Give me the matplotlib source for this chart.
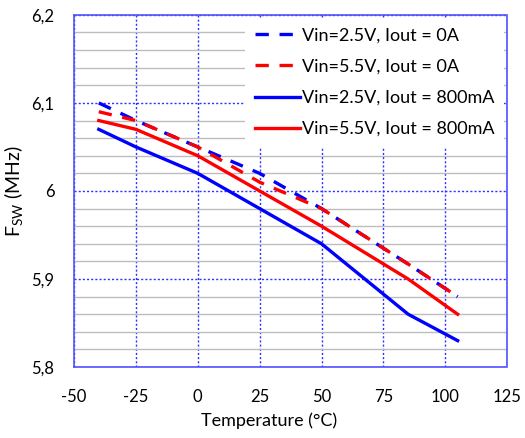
import matplotlib
matplotlib.use("Agg")
import matplotlib.pyplot as plt
import numpy as np

plt.rcParams['font.family'] = ['Lato', 'DejaVu Sans']
plt.rcParams['mathtext.fontset'] = 'custom'
plt.rcParams['mathtext.rm'] = 'Lato'
plt.rcParams['mathtext.it'] = 'Lato'
plt.rcParams['axes.unicode_minus'] = False

temps = [-40, -25, 0, 25, 50, 85, 105]
vin25_0a = [6.10, 6.08, 6.05, 6.02, 5.98, 5.917, 5.88]
vin55_0a = [6.09, 6.08, 6.05, 6.01, 5.98, 5.917, 5.88]
vin25_800 = [6.07, 6.05, 6.02, 5.98, 5.94, 5.86, 5.83]
vin55_800 = [6.08, 6.07, 6.04, 6.00, 5.96, 5.90, 5.86]

labels = ["Vin=2.5V, Iout = 0A", "Vin=5.5V, Iout = 0A",
          "Vin=2.5V, Iout = 800mA", "Vin=5.5V, Iout = 800mA"]
xticks = [-50, -25, 0, 25, 50, 75, 100, 125]
yticks = [5.8, 5.9, 6.0, 6.1, 6.2]
yticklabels = ["5,8", "5,9", "6", "6,1", "6,2"]

fig = plt.figure(figsize=(5.25, 4.38), dpi=100)
ax = fig.add_axes([0.141, 0.162, 0.825, 0.804])

blue = '#0000ff'
red = '#ff0000'
lw = 2.4
dash = (0, (4, 3.2))
ax.plot(temps, vin25_0a, color=blue, lw=lw, linestyle=dash, label=labels[0], zorder=3)
ax.plot(temps, vin55_0a, color=red, lw=lw, linestyle=dash, label=labels[1], zorder=3)
ax.plot(temps, vin25_800, color=blue, lw=lw, label=labels[2], zorder=3)
ax.plot(temps, vin55_800, color=red, lw=lw, label=labels[3], zorder=3)

ax.set_xlim(-50, 125)
ax.set_ylim(5.8, 6.2)
ax.set_xticks(xticks)
ax.set_yticks(yticks)
ax.set_yticklabels(yticklabels)
ax.set_yticks(np.arange(5.8, 6.2001, 0.02), minor=True)
ax.tick_params(which='both', length=0, labelsize=12, colors='black')
ax.tick_params(axis='x', pad=16)
ax.tick_params(axis='y', pad=14)

ax.grid(which='minor', axis='y', color='#bdbdbd', lw=1.0, linestyle='-', zorder=1)
ax.grid(which='major', axis='both', color='#3030ff', lw=1.0, linestyle=(0, (1.5, 1.5)), zorder=2)
for s in ax.spines.values():
    s.set_color('#5050ff')
    s.set_linestyle((0, (1.5, 1.0)))
    s.set_linewidth(1.2)
ax.set_axisbelow(True)

ax.set_xlabel("Temperature (°C)", fontsize=13, labelpad=5)
ax.xaxis.label.set_x(0.45)
ax.set_ylabel(r"F$_{\mathrm{SW}}$ (MHz)", fontsize=14, labelpad=5)

leg = ax.legend(loc='upper right', bbox_to_anchor=(1.0, 1.0), frameon=True,
                fontsize=13, handlelength=2.5, handletextpad=0.1,
                labelspacing=0.84, borderpad=0.55, borderaxespad=0.15)
leg.get_frame().set_facecolor('white')
leg.get_frame().set_edgecolor('none')
leg.get_frame().set_alpha(1.0)
leg.get_frame().set_boxstyle('square', pad=0)

fig.savefig("out.png", dpi=100)
